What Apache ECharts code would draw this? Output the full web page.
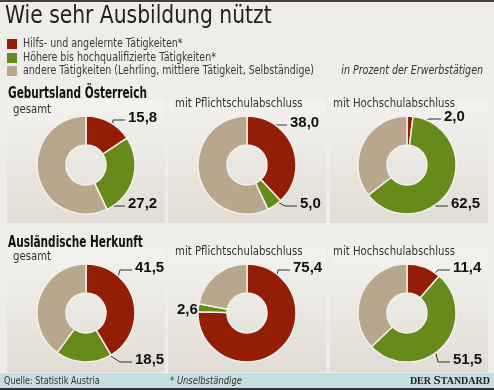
<!DOCTYPE html>
<html><head><meta charset="utf-8">
<script src="https://cdn.jsdelivr.net/npm/echarts@6/dist/echarts.min.js"></script>
<style>html,body{margin:0;padding:0;background:#efede9}#c{width:494px;height:390px}</style>
</head><body><div id="c"></div><script>
// ---- data ----
const categories = ['Hilfs- und angelernte Tätigkeiten*', 'Höhere bis hochqualifizierte Tätigkeiten*', 'andere Tätigkeiten (Lehrling, mittlere Tätigkeit, Selbständige)'];
const groups = ['Geburtsland Österreich', 'Ausländische Herkunft'];
const panelTitles = ['gesamt', 'mit Pflichtschulabschluss', 'mit Hochschulabschluss'];
const austriaHilfs = [15.8, 38.0, 2.0];
const austriaHoch = [27.2, 5.0, 62.5];
const austriaOther = [57.0, 57.0, 35.5];
const foreignHilfs = [41.5, 75.4, 11.4];
const foreignHoch = [18.5, 2.6, 51.5];
const foreignOther = [40.0, 22.0, 37.1];

// ---- layout / style ----
const colors = ['#931d06', '#678b1a', '#b8a78c'];
const SANS = '"DejaVu Sans Condensed","DejaVu Sans",sans-serif';
const BOLDNUM = '"Liberation Sans",Arial,sans-serif';
const colX = [86, 247, 407];
const rowY = [165, 313];
const R_IN = 20, R_OUT = 49;
// label anchor (left x, middle y) per chart: [red, green]
const anchors = [
  [[[128, 118], [128, 204]], [[290, 123], [300, 204]], [[444, 117], [451, 204]]],
  [[[135, 268], [135, 360]], [[293, 268], [177, 310]], [[453, 268], [453, 360]]]
];
const noLine = [[[false, false], [false, false], [false, false]], [[false, false], [false, true], [false, false]]];
const panelX = [[7, 165], [168, 326], [330, 488]];
const panelY = [[99, 223], [247, 372]];

const chart = echarts.init(document.getElementById('c'), null, {renderer: 'canvas'});
const dataSets = [[austriaHilfs, austriaHoch, austriaOther], [foreignHilfs, foreignHoch, foreignOther]];
const fmt = v => v.toFixed(1).replace('.', ',');

const series = [];
for (let r = 0; r < 2; r++) {
  for (let c = 0; c < 3; c++) {
    const vals = [dataSets[r][0][c], dataSets[r][1][c], dataSets[r][2][c]];
    const cx = colX[c], cy = rowY[r];
    const anc = anchors[r][c];
    const nl = noLine[r][c];
    const total = vals.reduce((a, b) => a + b, 0);
    series.push({
      type: 'pie',
      center: [cx, cy],
      radius: [R_IN, R_OUT],
      startAngle: 90,
      clockwise: true,
      avoidLabelOverlap: false,
      animation: false,
      silent: true,
      itemStyle: {borderColor: '#f2f0ec', borderWidth: 1.5},
      label: {
        show: true, position: 'outside', color: '#111', fontFamily: BOLDNUM, fontWeight: 'bold', fontSize: 15,
        formatter: p => fmt(p.value)
      },
      labelLine: {show: true, lineStyle: {color: '#333', width: 1}, length: 5, length2: 5},
      labelLayout: function (p) {
        const a = anc[p.dataIndex];
        if (!a) return {};
        const res = {x: a[0], y: a[1], align: 'left', verticalAlign: 'middle'};
        if (nl[p.dataIndex]) return res;
        let s = 0;
        for (let k = 0; k < p.dataIndex; k++) s += vals[k];
        const a0 = s / total * 360, a1 = (s + vals[p.dataIndex]) / total * 360;
        const ex = a[0] - 3, ey = a[1] + 2;
        let ang = Math.atan2(ex - cx, -(ey - cy)) * 180 / Math.PI;
        if (ang < 0) ang += 360;
        const m = Math.min(8, (a1 - a0) / 2);
        ang = Math.max(a0 + m, Math.min(a1 - m, ang));
        const rad = ang * Math.PI / 180;
        const rr = 40;
        const sx = cx + rr * Math.sin(rad), sy = cy - rr * Math.cos(rad);
        const bx = ex - 12;
        res.labelLinePoints = [[sx, sy], [bx, ey], [ex, ey]];
        return res;
      },
      data: vals.map((v, i) => ({
        value: v, name: categories[i],
        itemStyle: {color: colors[i]},
        label: {show: i < 2},
        labelLine: {show: i < 2 && !nl[i]}
      }))
    });
  }
}

const graphics = [];
function txt(x, y, text, font, fill, sx, align) {
  graphics.push({type: 'text', x: x, y: y, scaleX: sx, style: {text: text, font: font, fill: fill, verticalAlign: 'middle', align: align || 'left'}});
}
// top border
graphics.push({type: 'rect', shape: {x: 0, y: 0, width: 494, height: 2}, style: {fill: '#4a3f36'}, z: 0});
// panels
for (let r = 0; r < 2; r++) for (let c = 0; c < 3; c++) {
  graphics.push({type: 'rect', shape: {x: panelX[c][0], y: panelY[r][0], width: panelX[c][1] - panelX[c][0], height: panelY[r][1] - panelY[r][0]},
    style: {fill: new echarts.graphic.LinearGradient(0, 0, 0, 1, [{offset: 0, color: '#f3f2ef'}, {offset: 1, color: '#e1ddd5'}])}, z: -10});
}
// title
txt(5, 17, 'Wie sehr Ausbildung nützt', '24px ' + SANS, '#222', 0.94);
// legend
const legY = [44, 58, 71];
for (let i = 0; i < 3; i++) {
  graphics.push({type: 'rect', shape: {x: 7, y: legY[i] - 5, width: 10, height: 10}, style: {fill: colors[i]}});
  txt(23, legY[i], categories[i], '12px ' + SANS, '#3a3a3a', 0.88);
}
txt(483, 71, 'in Prozent der Erwerbstätigen', 'italic 12px ' + SANS, '#333', 0.88, 'right');
// group headings and panel titles
const headY = [94, 243];
const subY = [[110, 104, 104], [257, 252, 252]];
const subX = [13, 175, 333];
for (let r = 0; r < 2; r++) {
  txt(8, headY[r], groups[r], 'bold 15px ' + SANS, '#111', 0.78);
  for (let c = 0; c < 3; c++) {
    txt(subX[c], subY[r][c], panelTitles[c], '12px ' + SANS, '#333', 0.94);
  }
}
// footer
graphics.push({type: 'rect', shape: {x: 0, y: 373, width: 494, height: 15}, style: {fill: '#c6dfe2'}});
graphics.push({type: 'rect', shape: {x: 0, y: 388, width: 494, height: 2}, style: {fill: '#333'}});
txt(4, 381, 'Quelle: Statistik Austria', '11px ' + SANS, '#333', 0.82);
txt(170, 381, '* Unselbständige', 'italic 11px ' + SANS, '#333', 0.85);
graphics.push({type: 'text', x: 490, y: 381, style: {
  text: '{a|DER }{b|S}{a|TANDARD}', align: 'right', verticalAlign: 'middle',
  rich: {a: {fontFamily: '"Liberation Serif",serif', fontWeight: 'bold', fontSize: 10, fill: '#222', color: '#222'},
         b: {fontFamily: '"Liberation Serif",serif', fontWeight: 'bold', fontSize: 13, fill: '#222', color: '#222'}}
}});

chart.setOption({
  backgroundColor: '#efede9',
  animation: false,
  graphic: {elements: graphics},
  series: series
});
</script></body></html>
